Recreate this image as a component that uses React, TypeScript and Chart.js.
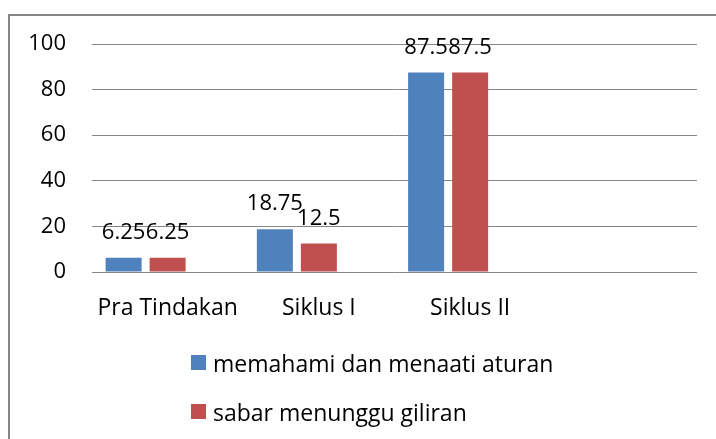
import React, { useEffect, useRef } from 'react';
import { Chart, registerables } from 'chart.js';

Chart.register(...registerables);

const categories = ['Pra Tindakan', 'Siklus I', 'Siklus II', ''];
const seriesNames = ['memahami dan menaati aturan', 'sabar menunggu giliran'];
const memahamiValues: (number | null)[] = [6.25, 18.75, 87.5, null];
const sabarValues: (number | null)[] = [6.25, 12.5, 87.5, null];
const emptySeries: (number | null)[] = [null, null, null, null];
const yTickValues = [0, 20, 40, 60, 80, 100];

const COLORS = ['#4F81BD', '#C0504D'];
const FONT = '"Open Sans", sans-serif';
const FONT_SIZE = 22;
const TEXT_SIZE = 23;
const GRID = '#868686';

const framePlugin = {
  id: 'frame',
  beforeDraw(chart: any) {
    const ctx = chart.ctx;
    ctx.save();
    ctx.fillStyle = '#ffffff';
    ctx.fillRect(0, 0, chart.width, chart.height);
    ctx.strokeStyle = GRID;
    ctx.lineWidth = 2;
    ctx.beginPath();
    ctx.moveTo(9, chart.height + 5);
    ctx.lineTo(9, 15);
    ctx.lineTo(chart.width + 5, 15);
    ctx.stroke();
    ctx.restore();
  },
};

const valueLabelPlugin = {
  id: 'valueLabels',
  afterDatasetsDraw(chart: any) {
    const ctx = chart.ctx;
    ctx.save();
    ctx.font = `${FONT_SIZE}px ${FONT}`;
    ctx.fillStyle = '#000000';
    ctx.textAlign = 'center';
    ctx.textBaseline = 'alphabetic';
    [0, 1].forEach((di) => {
      const meta = chart.getDatasetMeta(di);
      meta.data.forEach((el: any, i: number) => {
        const v = chart.data.datasets[di].data[i];
        if (v === null || v === undefined) return;
        ctx.fillText(String(v), el.x, el.y - 19);
      });
    });
    ctx.restore();
  },
};

const legendPlugin = {
  id: 'customLegend',
  afterDraw(chart: any) {
    const ctx = chart.ctx;
    ctx.save();
    ctx.font = `${TEXT_SIZE}px ${FONT}`;
    ctx.textAlign = 'left';
    ctx.textBaseline = 'alphabetic';
    seriesNames.forEach((name, i) => {
      const top = 355 + i * 49;
      ctx.fillStyle = COLORS[i];
      ctx.fillRect(191, top, 15, 15);
      ctx.fillStyle = '#000000';
      ctx.fillText(name, 213, top + 17);
    });
    ctx.restore();
  },
};

export default function App() {
  const canvasRef = useRef<HTMLCanvasElement | null>(null);

  useEffect(() => {
    if (!canvasRef.current) return;
    const chart = new Chart(canvasRef.current, {
      type: 'bar',
      data: {
        labels: categories,
        datasets: [
          { label: seriesNames[0], data: memahamiValues, backgroundColor: COLORS[0], borderWidth: 0 },
          { label: seriesNames[1], data: sabarValues, backgroundColor: COLORS[1], borderWidth: 0 },
          { label: '', data: emptySeries, backgroundColor: 'rgba(0,0,0,0)', borderWidth: 0 },
        ],
      },
      options: {
        animation: false,
        responsive: false,
        devicePixelRatio: 1,
        layout: { padding: { left: 0, right: 19, top: 44, bottom: 107 } },
        datasets: {
          bar: { categoryPercentage: 0.873, barPercentage: 0.818 },
        },
        plugins: {
          legend: { display: false },
          tooltip: { enabled: false },
        },
        scales: {
          x: {
            grid: { display: false, drawTicks: false },
            border: { display: false },
            ticks: {
              color: '#000000',
              font: { family: FONT, size: TEXT_SIZE },
              padding: 23,
              maxRotation: 0,
              autoSkip: false,
            },
            afterFit: (scale: any) => {
              scale.height = 60;
            },
          },
          y: {
            min: 0,
            max: 100,
            grid: { color: GRID, lineWidth: 1, drawTicks: false },
            border: { display: false },
            ticks: {
              color: '#000000',
              font: { family: FONT, size: FONT_SIZE },
              padding: 26,
              stepSize: 20,
            },
            afterBuildTicks: (scale: any) => {
              scale.ticks = yTickValues.map((v) => ({ value: v }));
            },
            afterFit: (scale: any) => {
              scale.width = 92;
            },
          },
        },
      },
      plugins: [framePlugin, valueLabelPlugin, legendPlugin],
    } as any);
    return () => chart.destroy();
  }, []);

  return (
    <div style={{ position: 'fixed', left: 0, top: 0, width: 716, height: 439, background: '#fff' }}>
      <canvas ref={canvasRef} width={716} height={439} style={{ display: 'block', width: 716, height: 439 }} />
    </div>
  );
}
